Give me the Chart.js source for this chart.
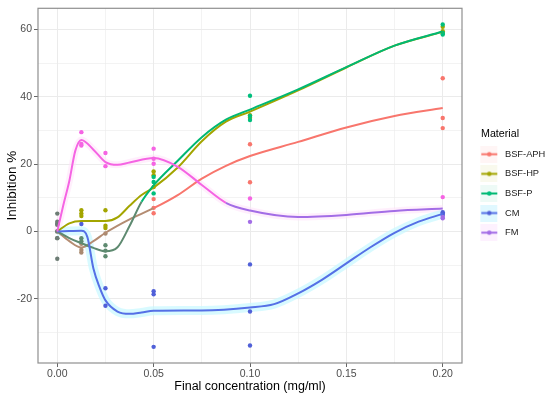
<!DOCTYPE html>
<html><head><meta charset="utf-8">
<script src="https://cdn.jsdelivr.net/npm/chart.js@4.4.1/dist/chart.umd.min.js"></script>
<style>html,body{margin:0;padding:0;background:#fff}#wrap{width:550px;height:398px;position:relative}</style>
</head><body><div id="wrap"><canvas id="c" width="550" height="398"></canvas></div>
<script>
// ---- Data ----
const materials = ['BSF-APH', 'BSF-HP', 'BSF-P', 'CM', 'FM'];
const xTickLabels = ['0.00', '0.05', '0.10', '0.15', '0.20'];
const yTickLabels = ['-20', '0', '20', '40', '60'];

// smoothed (loess) curves
const aphCurveX = [0, 0.00625, 0.0125, 0.01875, 0.025, 0.0375, 0.05, 0.0625, 0.075, 0.0875, 0.1, 0.125, 0.15, 0.175, 0.2];
const aphCurveY = [0, -2.9, -4.8, -2.9, -0.4, 3.6, 6.9, 10.8, 15.7, 19.5, 22.4, 26.6, 30.9, 34.3, 36.7];
const hpCurveX = [0, 0.00625, 0.0125, 0.01875, 0.025, 0.03125, 0.0375, 0.04375, 0.05, 0.0625, 0.075, 0.0875, 0.1, 0.125, 0.15, 0.175, 0.2];
const hpCurveY = [0, 2.4, 3.1, 3.1, 3.1, 4.2, 7.6, 10.8, 13.0, 19.0, 26.8, 32.6, 35.6, 41.9, 48.7, 55.2, 59.3];
const pCurveX = [0, 0.00625, 0.0125, 0.01875, 0.025, 0.03125, 0.0375, 0.04375, 0.05, 0.0625, 0.075, 0.0875, 0.1, 0.125, 0.15, 0.175, 0.2];
const pCurveY = [0, -2.0, -3.5, -4.9, -5.9, -4.7, 1.6, 8.8, 13.7, 21.0, 28.0, 33.2, 36.2, 42.2, 48.8, 55.2, 59.4];
const cmCurveX = [0, 0.00625, 0.0125, 0.015625, 0.01875, 0.021875, 0.025, 0.03125, 0.0375, 0.04375, 0.05, 0.075, 0.1, 0.1125, 0.125, 0.1375, 0.15, 0.1625, 0.175, 0.1875, 0.2];
const cmCurveY = [0, 0.1, 0.2, -1.7, -11.0, -16.5, -20.5, -23.8, -24.5, -24.1, -23.6, -23.5, -22.6, -21.6, -18.4, -14.3, -9.5, -4.7, -0.4, 2.9, 5.2];
const fmCurveX = [0, 0.003125, 0.00625, 0.009375, 0.0125, 0.01875, 0.025, 0.03125, 0.0375, 0.05, 0.0625, 0.075, 0.0875, 0.1, 0.125, 0.15, 0.175, 0.2];
const fmCurveY = [0, 7.8, 15.0, 24.0, 27.2, 24.3, 20.6, 19.8, 20.5, 21.8, 19.2, 13.8, 8.5, 6.2, 4.3, 4.9, 6.1, 6.8];

// observed replicate points
const aphPointX = [0, 0, 0, 0.0125, 0.0125, 0.0125, 0.025, 0.05, 0.05, 0.05, 0.1, 0.1, 0.2, 0.2, 0.2];
const aphPointY = [2.3, 0, -2.0, -3.7, -5.5, -6.3, -0.6, 9.6, 7.0, 5.4, 25.9, 14.6, 45.5, 33.7, 30.7];
const hpPointX = [0, 0, 0.0125, 0.0125, 0.0125, 0.025, 0.025, 0.025, 0.05, 0.05, 0.05, 0.1, 0.1, 0.2, 0.2, 0.2];
const hpPointY = [5.3, 2.9, 6.3, 5.3, 4.6, 6.3, 1.7, 1.0, 17.8, 16.7, 13.2, 33.8, 34.5, 60.8, 59.5, 58.8];
const pPointX = [0, 0, 0.0125, 0.0125, 0.025, 0.025, 0.025, 0.05, 0.05, 0.05, 0.1, 0.1, 0.1, 0.2, 0.2, 0.2];
const pPointY = [-2.0, -8.1, -2.0, -2.9, -4.1, -5.7, -7.4, 16.2, 14.7, 11.3, 40.3, 34.3, 33.1, 61.5, 59.0, 58.5];
const cmPointX = [0, 0.0125, 0.025, 0.025, 0.05, 0.05, 0.05, 0.1, 0.1, 0.1, 0.2, 0.2, 0.2];
const cmPointY = [2.0, 2.2, -16.9, -22.1, -17.8, -18.7, -34.3, -9.8, -23.8, -33.9, 5.7, 4.9, 5.3];
const fmPointX = [0, 0.0125, 0.0125, 0.0125, 0.025, 0.025, 0.05, 0.05, 0.05, 0.1, 0.1, 0.2, 0.2, 0.2];
const fmPointY = [0, 29.5, 26.0, 25.5, 23.3, 19.4, 24.6, 21.6, 20.1, 9.8, 2.85, 10.2, 4.3, 3.9];

// ---- Styling ----
const FONT = "'Liberation Sans', Arial, Helvetica, sans-serif";
Chart.defaults.font.family = FONT;
const lineColors = ['#F8766D', '#A3A500', '#00B873', '#5570E6', '#F564E3'];
const pointColors = ['#F8766D', '#A3A500', '#00BF7D', '#5060D8', '#F564E3'];
const earlyColors = ['#B48C72', null, '#5E8A70', null, null];
const keyFills = ['rgba(248,118,109,0.07)', 'rgba(163,165,0,0.07)', 'rgba(0,191,125,0.07)', 'rgba(0,200,255,0.12)', 'rgba(240,150,245,0.13)'];
const FM_LATE = '#A36DE6';
const ZERO_PT = '#6D7D75';

const pairs = (xs, ys) => xs.map((x, i) => ({x, y: ys[i]}));
const curves = [[aphCurveX, aphCurveY], [hpCurveX, hpCurveY], [pCurveX, pCurveY], [cmCurveX, cmCurveY], [fmCurveX, fmCurveY]];
const pts = [[aphPointX, aphPointY], [hpPointX, hpPointY], [pPointX, pPointY], [cmPointX, cmPointY], [fmPointX, fmPointY]];

const datasets = [];
materials.forEach((m, i) => {
  datasets.push({
    label: m, isLine: true,
    data: pairs(curves[i][0], curves[i][1]),
    showLine: true, pointRadius: 0, borderWidth: 2,
    borderColor: lineColors[i], backgroundColor: lineColors[i],
    cubicInterpolationMode: 'monotone',
    order: 5 - i,
    segment: {
      borderColor: ctx => {
        if (i === 4 && ctx.p0.parsed.x >= 0.085) return FM_LATE;
        if (earlyColors[i] && ctx.p1.parsed.x <= 0.05 && ctx.p0.parsed.x < 0.04) return earlyColors[i];
        return undefined;
      }
    }
  });
});
// faint confidence-band glow (style only, same curve data)
datasets.push({label: 'cm-band', data: pairs(cmCurveX, cmCurveY), showLine: true, pointRadius: 0, borderWidth: 9,
  borderColor: 'rgba(200,248,255,0.7)', cubicInterpolationMode: 'monotone', order: 30});
datasets.push({label: 'fm-band', data: pairs(fmCurveX, fmCurveY), showLine: true, pointRadius: 0, borderWidth: 7,
  borderColor: 'rgba(255,225,250,0.55)', cubicInterpolationMode: 'monotone', order: 31});
materials.forEach((m, i) => {
  datasets.push({
    label: m + ' points',
    data: pairs(pts[i][0], pts[i][1]),
    showLine: false, pointRadius: 2.2, borderWidth: 0,
    pointBackgroundColor: ctx => {
      const r = ctx.raw; if (!r) return pointColors[i];
      if (r.x === 0) return ZERO_PT;
      if (i === 2 && r.x < 0.04) return '#5E8A70';
      if (i === 0 && r.x < 0.04) return '#A88A70';
      if (i === 4 && r.x >= 0.1 && r.y < 6) return FM_LATE;
      return pointColors[i];
    },
    pointBorderColor: 'rgba(0,0,0,0)',
    order: 15 - i
  });
});

// legend key images (line + dot on faint fill)
const KEY_W = 28, KEY_OFF = 8;
const keyImgs = materials.map((m, i) => {
  const c = document.createElement('canvas');
  c.width = KEY_W; c.height = 17;
  const g = c.getContext('2d');
  g.fillStyle = keyFills[i]; g.fillRect(KEY_OFF, 0, 17, 17);
  g.strokeStyle = i === 4 ? FM_LATE : lineColors[i]; g.lineWidth = 2;
  g.beginPath(); g.moveTo(KEY_OFF + 1, 8.5); g.lineTo(KEY_OFF + 17, 8.5); g.stroke();
  g.fillStyle = i === 4 ? FM_LATE : pointColors[i];
  g.beginPath(); g.arc(KEY_OFF + 9, 8.5, 2.2, 0, Math.PI * 2); g.fill();
  return c;
});

const isMult = (v, s) => Math.abs(v / s - Math.round(v / s)) < 1e-6;

const panelBorder = {
  id: 'panelBorder',
  afterLayout(chart) {
    // let the legend labels use the full right margin (no clipping)
    if (chart.legend) chart.legend.right = chart.width;
  },
  afterDraw(chart) {
    const {ctx, chartArea: a} = chart;
    ctx.save(); ctx.strokeStyle = '#8f8f8f'; ctx.lineWidth = 1.2;
    ctx.strokeRect(a.left, a.top, a.right - a.left, a.bottom - a.top);
    ctx.restore();
  }
};

new Chart(document.getElementById('c'), {
  type: 'scatter',
  data: {datasets},
  options: {
    responsive: false, animation: false, devicePixelRatio: 1,
    layout: {padding: {left: 0, top: 5, right: 12, bottom: 0}},
    scales: {
      x: {
        type: 'linear', min: -0.01, max: 0.21,
        afterFit: s => { s.height = 35; },
        ticks: {stepSize: 0.025, includeBounds: false, autoSkip: false, maxRotation: 0, padding: 1,
          color: '#4d4d4d', font: {size: 10.5},
          callback: v => isMult(v, 0.05) ? xTickLabels[Math.round(v / 0.05)] : ''},
        grid: {color: '#ebebeb', lineWidth: c => (c.tick && isMult(c.tick.value, 0.05)) ? 1 : 0.6,
          tickLength: 4, tickColor: c => (c.tick && isMult(c.tick.value, 0.05)) ? '#666' : 'rgba(0,0,0,0)'},
        border: {display: false},
        title: {display: true, text: 'Final concentration (mg/ml)', color: '#000', font: {size: 12.5}, padding: {top: 0, bottom: 3.8}}
      },
      y: {
        type: 'linear', min: -39.1, max: 66.3,
        afterFit: s => { s.width = 38; },
        ticks: {stepSize: 10, includeBounds: false, autoSkip: false, padding: 2,
          color: '#4d4d4d', font: {size: 10.5},
          callback: v => isMult(v, 20) ? yTickLabels[Math.round(v / 20) + 1] : ''},
        grid: {color: '#ebebeb', lineWidth: c => (c.tick && isMult(c.tick.value, 20)) ? 1 : 0.6,
          tickLength: 4, tickColor: c => (c.tick && isMult(c.tick.value, 20)) ? '#666' : 'rgba(0,0,0,0)'},
        border: {display: false},
        title: {display: true, text: 'Inhibition %', color: '#000', font: {size: 13.5}, padding: {top: 4.2, bottom: 0}}
      }
    },
    plugins: {
      tooltip: {enabled: false},
      legend: {
        position: 'right', align: 'start', maxWidth: 76,
        title: {display: true, text: 'Material', position: 'center', color: '#000',
          font: {size: 10.7, lineHeight: 1}, padding: {top: 123.6, bottom: 0}},
        labels: {
          usePointStyle: true, pointStyleWidth: KEY_W, padding: 10.3, color: '#1a1a1a', font: {size: 9.3},
          generateLabels: () => materials.map((m, i) => ({
            text: m, pointStyle: keyImgs[i], fillStyle: 'rgba(0,0,0,0)', strokeStyle: 'rgba(0,0,0,0)',
            lineWidth: 0, hidden: false, datasetIndex: i, fontColor: '#1a1a1a'
          }))
        }
      }
    }
  },
  plugins: [panelBorder]
});
</script>
</body></html>
